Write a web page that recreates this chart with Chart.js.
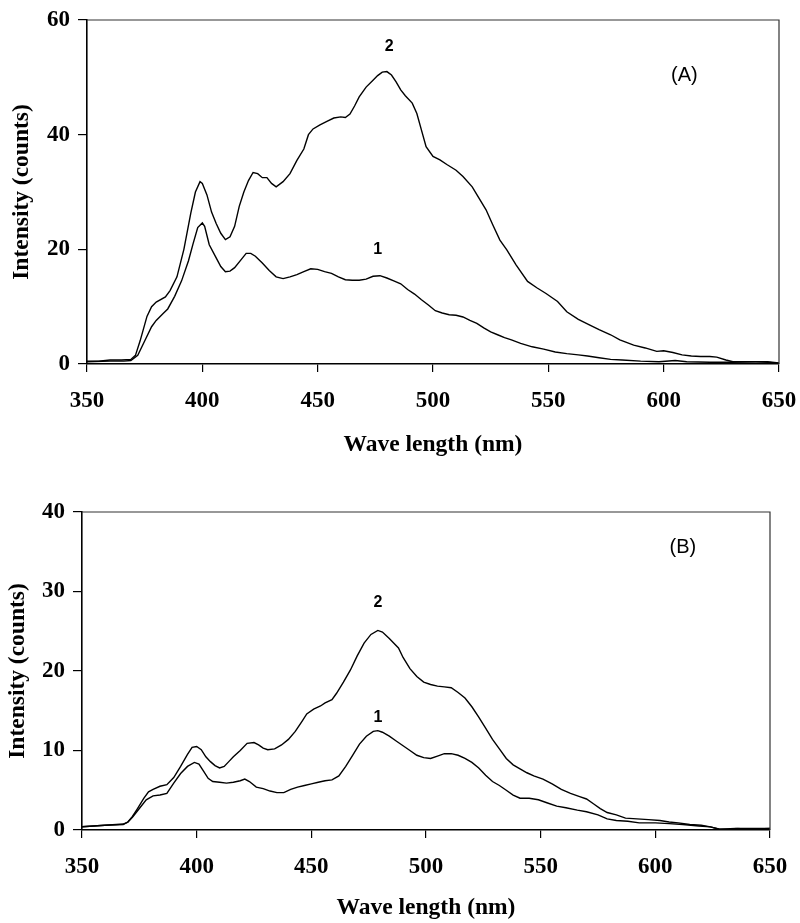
<!DOCTYPE html>
<html>
<head>
<meta charset="utf-8">
<script src="https://cdn.jsdelivr.net/npm/chart.js@4.4.0/dist/chart.umd.min.js"></script>
<style>
  body { margin: 0; background: #fff; }
  .wrap { position: absolute; left: 0; }
</style>
</head>
<body>
<div class="wrap" style="top:0"><canvas id="chartA" width="800" height="460"></canvas></div>
<div class="wrap" style="top:460px"><canvas id="chartB" width="800" height="463"></canvas></div>
<script>
// Panel A spectra (wavelength nm / intensity counts)
const wlA1 = [350, 360, 366, 369, 372, 375, 378, 380, 383, 385, 388, 391, 394, 396, 398, 400, 401, 403, 406, 408, 410, 412, 414, 417, 419, 421, 423, 426, 429, 432, 435, 438, 441, 444, 447, 450, 453, 456, 459, 462, 465, 468, 471, 474, 477, 480, 483, 486, 489, 492, 495, 498, 501, 504, 507, 510, 513, 516, 519, 522, 525, 528, 531, 534, 538, 543, 548, 553, 558, 563, 567, 572, 577, 582, 590, 598, 605, 610, 620, 630, 640, 645, 650];
const intA1 = [0.4, 0.5, 0.5, 0.6, 1.5, 4, 6.5, 7.6, 8.8, 9.6, 11.8, 14.5, 18, 21, 23.8, 24.6, 24, 20.8, 18.5, 17, 16.1, 16.2, 16.8, 18.3, 19.3, 19.3, 18.8, 17.6, 16.3, 15.2, 14.9, 15.2, 15.6, 16.1, 16.6, 16.5, 16.1, 15.8, 15.2, 14.7, 14.6, 14.6, 14.8, 15.3, 15.4, 15.0, 14.5, 14.0, 13.0, 12.2, 11.2, 10.3, 9.3, 8.9, 8.6, 8.5, 8.2, 7.6, 7.1, 6.3, 5.6, 5.1, 4.6, 4.2, 3.6, 3.0, 2.6, 2.1, 1.8, 1.6, 1.4, 1.1, 0.8, 0.7, 0.5, 0.4, 0.6, 0.4, 0.3, 0.3, 0.4, 0.4, 0.2];

const wlA2 = [350, 355, 360, 365, 369, 371, 373, 376, 378, 380, 384, 386, 389, 392, 395, 397, 399, 400, 402, 404, 406, 408, 410, 412, 414, 416, 418, 420, 422, 424, 426, 428, 430, 432, 435, 438, 441, 444, 446, 448, 451, 454, 457, 460, 462, 464, 466, 468, 471, 474, 476, 478, 480, 482, 484, 486, 488, 491, 493, 495, 497, 500, 503, 506, 510, 513, 517, 520, 523, 526, 529, 532, 536, 541, 545, 549, 554, 558, 563, 568, 572, 577, 581, 587, 592, 597, 600, 604, 608, 612, 616, 620, 623, 627, 630, 635, 640, 645, 650];
const intA2 = [0.5, 0.5, 0.7, 0.7, 0.8, 1.5, 4, 8.3, 10, 10.8, 11.7, 12.8, 15.2, 20, 26.3, 30, 31.8, 31.5, 29.5, 26.5, 24.5, 22.8, 21.7, 22.2, 24, 27.5, 30, 32, 33.4, 33.2, 32.5, 32.5, 31.5, 30.9, 31.8, 33.2, 35.5, 37.5, 40, 41, 41.7, 42.3, 42.9, 43.1, 43.0, 43.6, 45, 46.6, 48.3, 49.5, 50.3, 50.9, 51.0, 50.4, 49.2, 47.8, 46.8, 45.5, 43.7, 40.8, 37.9, 36.2, 35.6, 34.8, 33.8, 32.7, 30.9, 28.9, 26.9, 24.2, 21.6, 19.9, 17.3, 14.4, 13.3, 12.3, 10.9, 9.1, 7.8, 6.8, 6.0, 5.1, 4.2, 3.3, 2.8, 2.2, 2.3, 2.0, 1.6, 1.4, 1.3, 1.3, 1.2, 0.7, 0.4, 0.4, 0.4, 0.3, 0.1];

// Panel B spectra
const wlB1 = [350, 360, 368, 370, 372, 375, 378, 381, 384, 387, 390, 393, 396, 399, 401, 403, 405, 407, 410, 413, 416, 419, 421, 423, 426, 429, 432, 435, 438, 441, 444, 447, 450, 453, 456, 459, 462, 465, 468, 471, 474, 477, 479, 481, 484, 487, 490, 493, 496, 499, 502, 505, 508, 511, 514, 517, 520, 523, 526, 529, 532, 535, 538, 541, 545, 549, 553, 557, 561, 566, 570, 575, 579, 583, 588, 593, 600, 606, 612, 619, 624, 628, 635, 642, 650];
const intB1 = [0.4, 0.6, 0.7, 1.0, 1.6, 2.7, 3.8, 4.3, 4.4, 4.6, 5.9, 7.1, 8.0, 8.5, 8.3, 7.4, 6.5, 6.1, 6.0, 5.9, 6.0, 6.2, 6.4, 6.1, 5.4, 5.2, 4.9, 4.7, 4.7, 5.1, 5.4, 5.6, 5.8, 6.0, 6.2, 6.3, 6.8, 8.0, 9.4, 10.8, 11.8, 12.4, 12.5, 12.3, 11.8, 11.2, 10.6, 10.0, 9.4, 9.1, 9.0, 9.3, 9.6, 9.6, 9.4, 9.0, 8.5, 7.8, 6.9, 6.1, 5.6, 5.0, 4.4, 4.0, 4.0, 3.8, 3.4, 3.0, 2.8, 2.5, 2.3, 1.9, 1.4, 1.2, 1.1, 0.9, 0.9, 0.8, 0.7, 0.5, 0.4, 0.1, 0.2, 0.1, 0.2];

const wlB2 = [350, 355, 360, 365, 368, 370, 372, 374, 377, 379, 381, 384, 387, 390, 393, 396, 398, 400, 402, 404, 406, 408, 410, 412, 414, 416, 419, 422, 425, 427, 429, 431, 434, 437, 440, 443, 446, 448, 451, 454, 456, 459, 461, 464, 467, 470, 473, 476, 479, 481, 484, 486, 488, 490, 493, 496, 499, 502, 505, 508, 511, 514, 517, 520, 523, 526, 529, 532, 535, 538, 541, 544, 547, 551, 555, 559, 563, 567, 570, 573, 576, 579, 583, 587, 592, 597, 602, 606, 610, 615, 620, 624, 628, 632, 636, 641, 646, 650];
const intB2 = [0.4, 0.5, 0.6, 0.7, 0.75, 1.0, 1.7, 2.6, 4.0, 4.8, 5.1, 5.5, 5.7, 6.6, 8.0, 9.5, 10.4, 10.5, 10.1, 9.2, 8.6, 8.1, 7.8, 8.0, 8.6, 9.2, 10.0, 10.9, 11.0, 10.7, 10.3, 10.1, 10.2, 10.7, 11.4, 12.4, 13.7, 14.6, 15.2, 15.6, 16.0, 16.4, 17.2, 18.6, 20.1, 21.9, 23.5, 24.6, 25.1, 24.9, 24.1, 23.5, 22.9, 21.7, 20.3, 19.3, 18.6, 18.3, 18.1, 18.0, 17.9, 17.3, 16.6, 15.5, 14.2, 12.8, 11.4, 10.2, 9.0, 8.2, 7.7, 7.2, 6.8, 6.4, 5.8, 5.1, 4.6, 4.2, 3.9, 3.3, 2.7, 2.2, 1.9, 1.5, 1.4, 1.3, 1.2, 1.0, 0.9, 0.7, 0.6, 0.4, 0.1, 0.1, 0.2, 0.2, 0.2, 0.2];

// curve numbers and panel tag: [text, wavelength, intensity]
const notesA = [['2', 481, 55.3], ['1', 476, 19.9]];
const notesB = [['2', 479, 28.6], ['1', 479, 14.2]];
const tagA = ['(A)', 609, 50.4];
const tagB = ['(B)', 612, 35.5];

const SERIF = "'Liberation Serif', 'Times New Roman', serif";
const SANS = "'Liberation Sans', Arial, sans-serif";

function toPoints(xs, ys) {
  return xs.map((x, i) => ({ x: x, y: ys[i] }));
}

// top and right edges of the plot box + text notes
const framePlugin = {
  id: 'frame',
  afterDatasetsDraw(chart, args, opts) {
    const { ctx, chartArea: a, scales } = chart;
    ctx.save();
    ctx.strokeStyle = '#333';
    ctx.lineWidth = 1.2;
    ctx.beginPath();
    ctx.moveTo(a.left, a.top);
    ctx.lineTo(a.right, a.top);
    ctx.lineTo(a.right, a.bottom);
    ctx.stroke();

    ctx.fillStyle = '#000';
    ctx.textAlign = 'center';
    ctx.textBaseline = 'middle';
    ctx.font = 'bold 16px ' + SANS;
    opts.notes.forEach(n => {
      ctx.fillText(n[0], scales.x.getPixelForValue(n[1]), scales.y.getPixelForValue(n[2]));
    });
    ctx.font = '20px ' + SANS;
    const t = opts.tag;
    ctx.fillText(t[0], scales.x.getPixelForValue(t[1]), scales.y.getPixelForValue(t[2]));
    ctx.restore();
  }
};

function makeChart(id, s1, s2, cfg) {
  const ctx = document.getElementById(id).getContext('2d');
  const line = data => ({
    data: data,
    borderColor: '#000',
    borderWidth: 1.4,
    pointRadius: 0,
    tension: 0,
    fill: false
  });
  return new Chart(ctx, {
    type: 'line',
    data: { datasets: [line(s1), line(s2)] },
    plugins: [framePlugin],
    options: {
      responsive: false,
      animation: false,
      layout: { padding: { top: cfg.padTop, right: cfg.padRight, left: 0, bottom: 0 } },
      plugins: {
        legend: { display: false },
        tooltip: { enabled: false },
        frame: { notes: cfg.notes, tag: cfg.tag }
      },
      scales: {
        x: {
          type: 'linear',
          min: 350,
          max: 650,
          // fixed axis box, no extra room for the end labels
          afterFit: s => {
            s.height = cfg.xHeight;
            s.paddingLeft = 0;
            s.paddingRight = 0;
          },
          ticks: { stepSize: 50, color: '#000', padding: 15, font: { family: SERIF, size: 23, weight: 'bold' } },
          grid: { drawOnChartArea: false, drawTicks: true, tickLength: 8, color: '#000', lineWidth: 1.2 },
          border: { display: true, color: '#000', width: 1.6 },
          title: {
            display: true,
            text: 'Wave length (nm)',
            color: '#000',
            font: { family: SERIF, size: 23.5, weight: 'bold' },
            padding: { top: 0, bottom: 1 }
          }
        },
        y: {
          min: 0,
          max: cfg.yMax,
          afterFit: s => {
            s.width = cfg.yWidth;
            s.paddingTop = 0;
            s.paddingBottom = 0;
          },
          ticks: { stepSize: cfg.yStep, color: '#000', padding: 8, font: { family: SERIF, size: 23, weight: 'bold' } },
          grid: { drawOnChartArea: false, drawTicks: true, tickLength: 9, color: '#000', lineWidth: 1.2 },
          border: { display: true, color: '#000', width: 1.6 },
          title: {
            display: true,
            text: 'Intensity (counts)',
            color: '#000',
            font: { family: SERIF, size: 23.5, weight: 'bold' },
            padding: { top: cfg.yTitlePad, bottom: 0 }
          }
        }
      }
    }
  });
}

makeChart('chartA', toPoints(wlA1, intA1), toPoints(wlA2, intA2), {
  yMax: 60, yStep: 20, yWidth: 87, padTop: 20, padRight: 21, xHeight: 96, yTitlePad: 8,
  notes: notesA, tag: tagA
});

makeChart('chartB', toPoints(wlB1, intB1), toPoints(wlB2, intB2), {
  yMax: 40, yStep: 10, yWidth: 82, padTop: 52, padRight: 30, xHeight: 93, yTitlePad: 4,
  notes: notesB, tag: tagB
});
</script>
</body>
</html>
